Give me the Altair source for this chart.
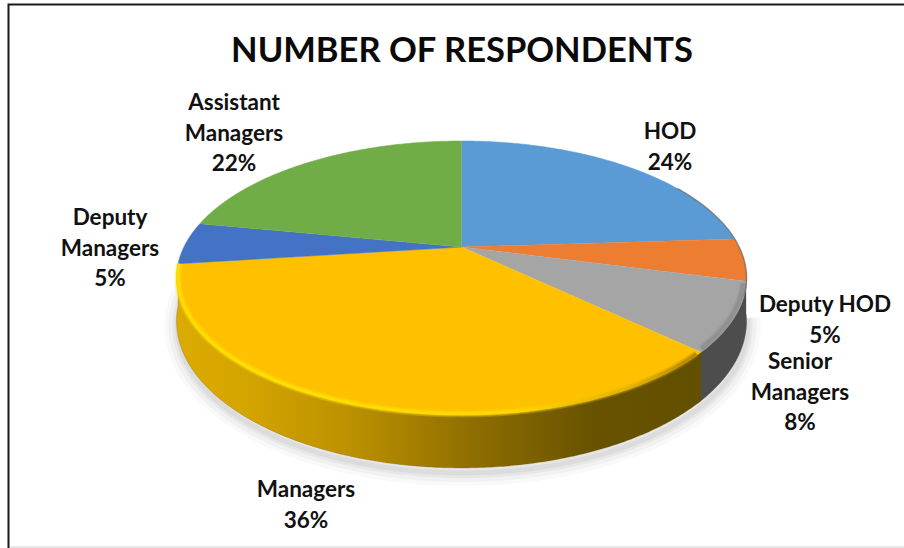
import math

import altair as alt
import pandas as pd

# Survey figures
CATEGORIES = ["HOD", "Deputy HOD", "Senior\nManagers", "Managers", "Deputy\nManagers", "Assistant\nManagers"]
SHARES = [24, 5, 8, 36, 5, 22]
COLORS = ["#5B9BD5", "#ED7D31", "#A5A5A5", "#FFC000", "#4472C4", "#70AD47"]

# Layout constants for the tilted disc, in canvas pixels
WIDTH, HEIGHT = 904, 548
CENTER_X, CENTER_Y = 461.5, 247.0
RADIUS_X, RADIUS_Y = 277.6, 130.0
TILT = 0.226
DEPTH = 41.0
LABEL_ANCHORS = [(670, 132), (825, 305), (800, 362), (306, 490), (110, 218), (234, 103)]

X = alt.X("x:Q", scale=alt.Scale(domain=[0, WIDTH]), axis=None)
Y = alt.Y("y:Q", scale=alt.Scale(domain=[HEIGHT, 0]), axis=None)


def project(deg, shrink=1.0, drop=0.0):
    """Perspective position of a point on the rim, clockwise from twelve o'clock."""
    u = math.sin(math.radians(deg)) * shrink
    v = math.cos(math.radians(deg)) * shrink
    w = 1 + TILT * v
    return CENTER_X + RADIUS_X * u / w, CENTER_Y - RADIUS_Y * v / w + drop * DEPTH / w


def sweep(start, end, **kw):
    n = max(2, int(abs(end - start)) * 2)
    return [project(start + (end - start) * i / n, **kw) for i in range(n + 1)]


def frame(points):
    return pd.DataFrame([{"x": p[0], "y": p[1], "i": i} for i, p in enumerate(points)])


def path(points, **mark):
    return alt.Chart(frame(points)).mark_line(**mark).encode(
        x=X, y=Y, order=alt.Order("i:Q")
    )


def h_gradient(stops):
    return alt.Gradient(
        gradient="linear", x1=0, x2=1, y1=0, y2=0,
        stops=[alt.GradientStop(offset=o, color=c) for o, c in stops],
    )


# Cumulative slice boundaries in degrees
edges = [0.0]
for share in SHARES:
    edges.append(edges[-1] + share * 3.6)
senior_start, senior_end = edges[2], edges[3]
managers_start, managers_end = edges[3], edges[4]

layers = []

# Soft cast shadow under the front of the disc
for spread, alpha in [(26, 0.04), (18, 0.06), (10, 0.08), (5, 0.09)]:
    layers.append(path(
        [(x + 1, y + 5) for x, y in sweep(100, 272, drop=1.0)],
        stroke="#707070", strokeWidth=spread, strokeOpacity=alpha,
    ))

# Side wall: rim along the top, same rim dropped by the disc depth along the bottom
layers.append(path(
    sweep(senior_start - 4, senior_end + 1) + sweep(senior_end + 1, senior_start - 4, drop=1.0),
    fill="#4D4D4D", stroke="#4D4D4D", strokeWidth=0.5,
))
layers.append(path(
    sweep(managers_start, managers_end) + sweep(managers_end, managers_start, drop=1.0),
    fill=h_gradient([
        (0.0, "#DCAB00"), (0.12, "#D5A500"), (0.32, "#BE9200"),
        (0.58, "#8C6C00"), (0.8, "#675200"), (1.0, "#625000"),
    ]),
    stroke="#6A5400", strokeWidth=0.5, strokeOpacity=0.5,
))

# Top face slices
for share_color, start, end in zip(COLORS, edges[:-1], edges[1:]):
    layers.append(path(
        [(CENTER_X, CENTER_Y)] + sweep(start, end),
        fill=share_color, stroke=share_color, strokeWidth=0.5,
    ))

# Bevel along the front rim of the top face
rim_gradient = h_gradient([
    (0.0, "#FFDF00"), (0.2, "#FFE400"), (0.65, "#FFD900"),
    (0.88, "#E0AE00"), (1.0, "#A88000"),
])
for width, alpha in [(7, 0.3), (4.5, 0.45), (2.5, 0.7)]:
    layers.append(path(
        sweep(managers_start + 1, managers_end, shrink=0.995),
        stroke=rim_gradient, strokeWidth=width, strokeOpacity=alpha,
    ))
for width, alpha in [(7, 0.25), (4, 0.35)]:
    layers.append(path(
        sweep(senior_start + 1, senior_end - 1, shrink=0.99),
        stroke="#7F7F7F", strokeWidth=width, strokeOpacity=alpha,
    ))
layers.append(path(
    sweep(60, senior_start + 6), stroke="#6E6E6E", strokeWidth=1.5, strokeOpacity=0.7,
))

# Slice labels, each stating its share
labels = pd.DataFrame({
    "text": [f"{c}\n{s}%" for c, s in zip(CATEGORIES, SHARES)],
    "x": [a[0] for a in LABEL_ANCHORS],
    "y": [a[1] for a in LABEL_ANCHORS],
})
layers.append(alt.Chart(labels).mark_text(
    font="Lato", fontWeight="bold", fontSize=22.5, color="#111111",
    lineBreak="\n", lineHeight=30.5, align="center", baseline="middle",
).encode(x=X, y=Y, text="text:N"))

# Chart title
layers.append(alt.Chart(pd.DataFrame({"x": [462], "y": [52], "text": ["NUMBER OF RESPONDENTS"]})).mark_text(
    font="Lato", fontWeight="bold", fontSize=34.5, color="#0A0A0A", align="center", baseline="middle",
).encode(x=X, y=Y, text="text:N"))

# Picture frame: top and left edges with a pale strip along the bottom
border = pd.DataFrame({"x": [8.5, 8.5, WIDTH], "y": [HEIGHT, 4.5, 4.5], "i": [0, 1, 2]})
layers.append(alt.Chart(border).mark_line(stroke="#1A1A1A", strokeWidth=2).encode(
    x=X, y=Y, order=alt.Order("i:Q")
))
strip = pd.DataFrame({"x": [10, WIDTH], "y": [547, 547], "i": [0, 1]})
layers.append(alt.Chart(strip).mark_line(stroke="#E8E8E8", strokeWidth=2).encode(
    x=X, y=Y, order=alt.Order("i:Q")
))

chart = alt.layer(*layers).properties(
    width=WIDTH, height=HEIGHT, padding=0, autosize=alt.AutoSizeParams(type="none"),
    background="#FFFFFF",
).configure_view(stroke=None)

chart.save("out.html", embed_options={"renderer": "svg", "actions": False})
